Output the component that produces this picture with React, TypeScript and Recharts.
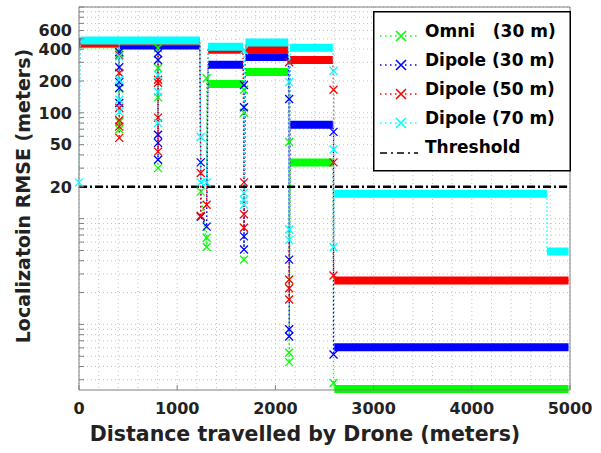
import React from 'react';
import { ComposedChart, Line, Scatter, XAxis, YAxis, CartesianGrid, ReferenceLine, Legend } from 'recharts';

const xTicks = [0, 1000, 2000, 3000, 4000, 5000];
const xGrid = [0, 200, 400, 600, 800, 1000, 1200, 1400, 1600, 1800, 2000, 2200, 2400, 2600, 2800, 3000, 3200, 3400, 3600, 3800, 4000, 4200, 4400, 4600, 4800, 5000];
const yTickLabels = [20, 50, 100, 200, 400, 600];
const yGrid = [0.3, 0.4, 0.5, 0.6, 0.7, 0.8, 0.9, 1, 2, 3, 4, 5, 6, 7, 8, 9, 10, 20, 30, 40, 50, 60, 70, 80, 90, 100, 200, 300, 400, 500, 600, 700, 800, 900, 1000];
const threshold = 20;

const seriesNames = ['Omni   (30 m)', 'Dipole (30 m)', 'Dipole (50 m)', 'Dipole (70 m)'];
const seriesColors = ['#00ff00', '#0000ff', '#ff0000', '#00ffff'];

// plateaus: [start, end, rmse]
const omniSteps = [[0, 410, 445], [410, 805, 445], [805, 1230, 445], [1315, 1670, 187], [1695, 2130, 243], [2150, 2585, 34], [2600, 4985, 0.245]];
const dip30Steps = [[0, 410, 470], [410, 805, 432], [805, 1230, 432], [1315, 1670, 285], [1695, 2130, 336], [2150, 2585, 77], [2600, 4985, 0.61]];
const dip50Steps = [[0, 410, 455], [410, 805, 470], [805, 1230, 470], [1315, 1670, 395], [1695, 2130, 392], [2150, 2585, 315], [2600, 4985, 2.6]];
const dip70Steps = [[15, 410, 482], [410, 805, 482], [805, 1230, 482], [1315, 1670, 420], [1695, 2130, 462], [2150, 2585, 412], [2600, 4765, 17.2], [4765, 4985, 4.9]];

// scattered estimates while the drone moves between positions: [x, rmse]
const omniMarks = [[410, 365], [410, 170], [410, 82], [410, 70], [805, 410], [805, 265], [805, 140], [805, 30], [1240, 18], [1300, 5.4], [1300, 6.6], [1300, 212], [1680, 165], [1680, 100], [1680, 4.1], [2140, 53], [2140, 2.65], [2140, 0.54], [2140, 0.44], [2592, 0.28]];
const dip30Marks = [[410, 375], [410, 270], [410, 195], [410, 172], [410, 124], [805, 365], [805, 315], [805, 62], [805, 52], [805, 36], [1240, 34], [1240, 10.4], [1300, 8.4], [1680, 183], [1680, 113], [1680, 6.8], [1680, 5.1], [2140, 135], [2140, 4.1], [2140, 0.9], [2140, 0.77], [2592, 66], [2592, 0.52]];
const dip50Marks = [[410, 350], [410, 238], [410, 111], [410, 85], [410, 74], [410, 58], [805, 205], [805, 192], [805, 90], [805, 43], [1240, 27], [1240, 10.6], [1300, 13.5], [1680, 22], [1680, 11], [1680, 8.2], [2140, 300], [2140, 2.65], [2140, 2.2], [2140, 1.72], [2592, 165], [2592, 34], [2592, 2.9]];
const dip70Marks = [[0, 22], [410, 340], [410, 205], [410, 133], [410, 102], [805, 228], [805, 158], [805, 80], [1240, 59], [1240, 22], [1300, 22], [1680, 390], [1680, 17.5], [1680, 15], [1680, 13.5], [2140, 195], [2140, 7.9], [2140, 6.3], [2592, 250], [2592, 45], [2592, 5.4]];

const allSteps = [omniSteps, dip30Steps, dip50Steps, dip70Steps];
const allMarks = [omniMarks, dip30Marks, dip50Marks, dip70Marks];

const FONT = '"DejaVu Sans", sans-serif';
const AXIS = '#7f7f7f';
const TXT = '#222';

// path through plateaus and the jumps in between (dotted line in the original)
function buildTrace(steps: number[][], marks: number[][]) {
  const pts: { x: number; y: number }[] = [];
  const used = new Set<number>();
  marks.forEach((m, i) => {
    if (m[0] < steps[0][0]) { pts.push({ x: m[0], y: m[1] }); used.add(i); }
  });
  steps.forEach((s, k) => {
    pts.push({ x: s[0], y: s[2] }, { x: s[1], y: s[2] });
    const next = steps[k + 1];
    marks.forEach((m, i) => {
      if (!used.has(i) && m[0] >= s[1] && (!next || m[0] <= next[0])) {
        pts.push({ x: m[0], y: m[1] });
        used.add(i);
      }
    });
  });
  return pts;
}

function buildBand(steps: number[][]) {
  return steps.flatMap((s) => [
    { x: s[0], y: s[2] },
    { x: s[1], y: s[2] },
    { x: s[1], y: null },
  ]);
}

const XMark = ({ cx, cy, color, r = 4, w = 1.3 }: any) => {
  if (cx == null || cy == null) return null;
  return (
    <path
      d={`M${cx - r},${cy - r}L${cx + r},${cy + r}M${cx - r},${cy + r}L${cx + r},${cy - r}`}
      stroke={color}
      strokeWidth={w}
      fill="none"
    />
  );
};

const LeftTick = (p: any) => {
  const v = p.payload.value;
  return (
    <g>
      <line x1={p.x} x2={p.x + 5} y1={p.y} y2={p.y} stroke={AXIS} />
      {yTickLabels.includes(v) && (
        <text x={p.x - 7} y={p.y} dy="0.36em" textAnchor="end" fontFamily={FONT} fontWeight="bold" fontSize={16} fill={TXT}>
          {v}
        </text>
      )}
    </g>
  );
};

const RightTick = (p: any) => <line x1={p.x} x2={p.x - 5} y1={p.y} y2={p.y} stroke={AXIS} />;

const BottomTick = (p: any) => (
  <g>
    <line x1={p.x} x2={p.x} y1={p.y} y2={p.y - 5} stroke={AXIS} />
    <text x={p.x} y={p.y + 24} textAnchor="middle" fontFamily={FONT} fontWeight="bold" fontSize={16} fill={TXT}>
      {p.payload.value}
    </text>
  </g>
);

const TopTick = (p: any) => <line x1={p.x} x2={p.x} y1={p.y} y2={p.y + 5} stroke={AXIS} />;

const YTitle = () => (
  <text x={30} y={196} transform="rotate(-90, 30, 196)" textAnchor="middle" fontFamily={FONT} fontWeight="bold" fontSize={19} fill={TXT}>
    Localizatoin RMSE (meters)
  </text>
);

const XTitle = () => (
  <text x={305} y={441} textAnchor="middle" fontFamily={FONT} fontWeight="bold" fontSize={20.5} fill={TXT}>
    Distance travelled by Drone (meters)
  </text>
);

const LegendBox = () => (
  <svg width={198} height={161} style={{ display: 'block' }}>
    <rect x={0.75} y={0.75} width={196.5} height={159} fill="#fff" stroke="#000" strokeWidth={1.5} />
    {seriesNames.map((name, i) => {
      const cy = 20 + i * 29;
      return (
        <g key={name}>
          <line x1={7} x2={45} y1={cy + 5} y2={cy + 5} stroke={seriesColors[i]} strokeWidth={1.5} strokeDasharray="1.5 3.5" />
          <XMark cx={28} cy={cy + 5} color={seriesColors[i]} r={5} w={1.6} />
          <text x={52} y={cy} dy="0.36em" fontFamily={FONT} fontWeight="bold" fontSize={17} fill="#000" style={{ whiteSpace: 'pre' }}>
            {name}
          </text>
        </g>
      );
    })}
    <line x1={7} x2={45} y1={142} y2={142} stroke="#000" strokeWidth={1.5} strokeDasharray="7 4 2 4" />
    <text x={52} y={136} dy="0.36em" fontFamily={FONT} fontWeight="bold" fontSize={17} fill="#000">
      Threshold
    </text>
  </svg>
);

export default function App() {
  return (
    <div style={{ position: 'absolute', left: 0, top: 0 }}>
      <ComposedChart width={601} height={453} margin={{ top: 0, right: 0, left: 0, bottom: 0 }}>
        <CartesianGrid stroke="#c4c4c4" strokeDasharray="1 3" horizontalValues={yGrid} verticalValues={xGrid} />
        <XAxis
          dataKey="x"
          type="number"
          domain={[0, 5000]}
          ticks={xTicks}
          interval={0}
          height={63}
          tickSize={0}
          tickMargin={0}
          tickLine={false}
          axisLine={{ stroke: AXIS }}
          tick={(p: any) => <BottomTick {...p} />}
          label={<XTitle />}
        />
        <XAxis
          xAxisId="top"
          orientation="top"
          dataKey="x"
          type="number"
          domain={[0, 5000]}
          ticks={xTicks}
          interval={0}
          height={7}
          tickSize={0}
          tickMargin={0}
          tickLine={false}
          axisLine={{ stroke: AXIS }}
          tick={(p: any) => <TopTick {...p} />}
        />
        <YAxis
          dataKey="y"
          scale="log"
          domain={[0.24, 1000]}
          ticks={yGrid}
          interval={0}
          width={79}
          tickSize={0}
          tickMargin={0}
          tickLine={false}
          axisLine={{ stroke: AXIS }}
          tick={(p: any) => <LeftTick {...p} />}
          label={<YTitle />}
        />
        <YAxis
          yAxisId="right"
          orientation="right"
          dataKey="y"
          scale="log"
          domain={[0.24, 1000]}
          ticks={yGrid}
          interval={0}
          width={31}
          tickSize={0}
          tickMargin={0}
          tickLine={false}
          axisLine={{ stroke: AXIS }}
          tick={(p: any) => <RightTick {...p} />}
        />
        {allSteps.map((steps, i) => (
          <React.Fragment key={seriesNames[i]}>
            <Line
              data={buildBand(steps)}
              dataKey="y"
              stroke={seriesColors[i]}
              strokeWidth={8}
              strokeLinecap="butt"
              dot={false}
              activeDot={false}
              isAnimationActive={false}
              legendType="none"
            />
            <Line
              data={buildTrace(steps, allMarks[i])}
              dataKey="y"
              stroke={seriesColors[i]}
              strokeWidth={1.3}
              strokeDasharray="1.5 2.5"
              dot={false}
              activeDot={false}
              isAnimationActive={false}
              legendType="none"
            />
            <Scatter
              data={allMarks[i].map((m) => ({ x: m[0], y: m[1] }))}
              dataKey="y"
              isAnimationActive={false}
              legendType="none"
              shape={(p: any) => <XMark cx={p.cx} cy={p.cy} color={seriesColors[i]} />}
            />
          </React.Fragment>
        ))}
        <ReferenceLine y={threshold} stroke="#000" strokeWidth={2.5} strokeDasharray="8 3 2 3" />
        <Legend
          layout="vertical"
          align="center"
          verticalAlign="middle"
          wrapperStyle={{ position: 'absolute', left: 373, top: 11, width: 198, height: 161 }}
          content={() => <LegendBox />}
        />
      </ComposedChart>
    </div>
  );
}
